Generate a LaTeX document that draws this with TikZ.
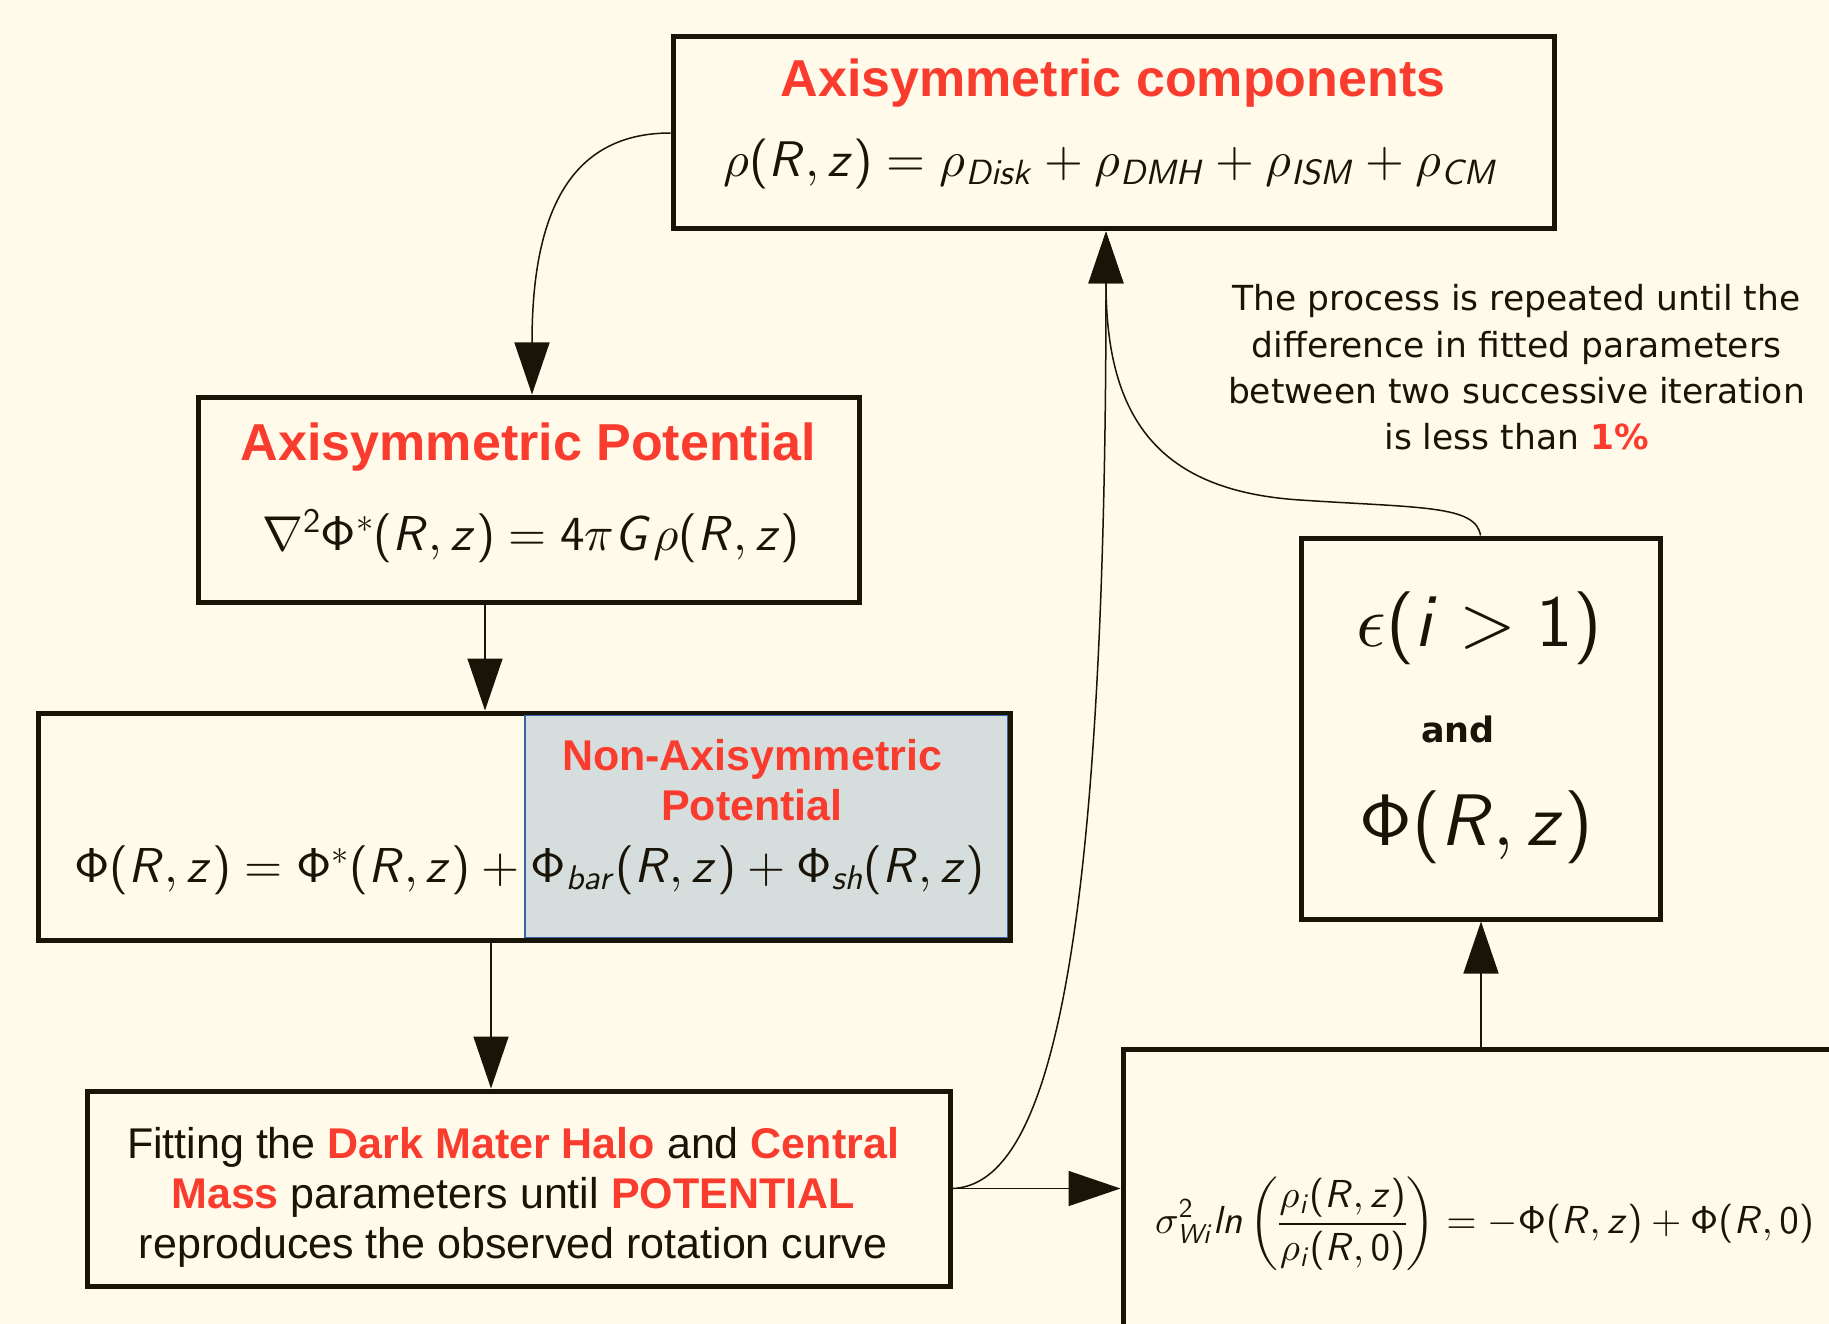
\RequirePackage{fix-cm}
\documentclass[tikz,border=0pt]{standalone}
\usepackage[no-math]{fontspec}
\usetikzlibrary{arrows.meta}
\newfontfamily\lib{Liberation Sans}
\newfontfamily\dvs{DejaVu Sans}
\DeclareFontFamily{OT1}{xcmss}{}
\DeclareFontShape{OT1}{xcmss}{m}{n}{<->cmss10}{}
\DeclareFontShape{OT1}{xcmss}{m}{sl}{<->cmssi10}{}
\DeclareFontFamily{OML}{xcmm}{\skewchar\font=127}
\DeclareFontShape{OML}{xcmm}{m}{it}{<->cmmi10}{}
\DeclareFontFamily{OMS}{xcmsy}{\skewchar\font=48}
\DeclareFontShape{OMS}{xcmsy}{m}{n}{<->cmsy10}{}
\DeclareFontFamily{OMX}{xcmex}{}
\DeclareFontShape{OMX}{xcmex}{m}{n}{<->cmex10}{}
\SetSymbolFont{operators}{normal}{OT1}{xcmss}{m}{n}
\SetSymbolFont{letters}{normal}{OML}{xcmm}{m}{it}
\SetSymbolFont{symbols}{normal}{OMS}{xcmsy}{m}{n}
\SetSymbolFont{largesymbols}{normal}{OMX}{xcmex}{m}{n}
\DeclareSymbolFont{sfit}{OT1}{xcmss}{m}{sl}
\makeatletter
\@tempcnta=97
\loop
  \mathcode\@tempcnta=\numexpr"7000+\symsfit*256+\@tempcnta\relax
  \advance\@tempcnta by 1
  \ifnum\@tempcnta<123 \repeat
\@tempcnta=65
\loop
  \mathcode\@tempcnta=\numexpr"7000+\symsfit*256+\@tempcnta\relax
  \advance\@tempcnta by 1
  \ifnum\@tempcnta<91 \repeat
\makeatother
\definecolor{bg}{RGB}{255,250,234}
\definecolor{ink}{RGB}{24,20,8}
\definecolor{rd}{RGB}{250,60,46}
\definecolor{gr}{RGB}{213,222,220}
\definecolor{bl}{RGB}{52,101,164}
\begin{document}
\begin{tikzpicture}[x=1pt,y=-1pt,
  box/.style={draw=ink, line width=5pt, inner sep=0pt},
  conn/.style={draw=ink, line width=1.5pt, -{Triangle[length=52pt,width=35pt]}},
  redtitle/.style={anchor=base, text=rd, font=\lib\bfseries\fontsize{52}{60}\selectfont},
  redsub/.style={anchor=base, text=rd, font=\lib\bfseries\fontsize{43}{50}\selectfont},
  fittxt/.style={anchor=base, text=ink, font=\lib\fontsize{43}{50}\selectfont},
  notetxt/.style={anchor=base, text=ink, font=\dvs\fontsize{34.5}{46}\selectfont},
  mth/.style={anchor=base, text=ink, font=\fontsize{49}{58}\selectfont},
  big/.style={anchor=base, text=ink, font=\fontsize{73}{88}\selectfont}]
\path[use as bounding box, fill=bg] (0,0) rectangle (1829,1324);
\clip (0,0) rectangle (1829,1324);

\coordinate (xa) at (485,0);
\coordinate (xb) at (491,0);
\coordinate (xc) at (1106,0);
\coordinate (xd) at (1481,0);
\coordinate (xe) at (532,0);

% Axisymmetric components
\node[box, minimum width=881pt, minimum height=192pt] (comp) at (1113.5,133) {};
\node[redtitle] (compT) at (1113,97) {Axisymmetric components};
\node[mth, font=\fontsize{50}{60}\selectfont] (compE) at (1110.5,177) {$\rho(R,z)=\rho_{Disk}+\rho_{DMH}+\rho_{ISM}+\rho_{CM}$};

% Axisymmetric potential
\node[box, minimum width=661pt, minimum height=205pt] (pot) at (528.5,499.5) {};
\node[redtitle] (potT) at (528.5,460) {Axisymmetric Potential};
\node[mth] (potE) at (531,550) {$\nabla^2\Phi^*(R,z)=4\pi G\rho(R,z)$};

% Full potential
\node[box, minimum width=972pt, minimum height=227pt] (phi) at (524,826.5) {};
\path[fill=gr, draw=bl, line width=1.2pt] (525,715.5) rectangle (1007.5,937.5);
\node[redsub] (nonT1) at (752,770) {Non-Axisymmetric};
\node[redsub] (nonT2) at (752,820) {Potential};
\node[mth] (phiE) at (529.6,882) {$\Phi(R,z)=\Phi^*(R,z)+\Phi_{bar}(R,z)+\Phi_{sh}(R,z)$};

% Fitting
\node[box, minimum width=863pt, minimum height=195pt] (fit) at (518.5,1188.5) {};
\node[fittxt] (fit1) at (513,1158) {Fitting the {\bfseries\color{rd}Dark Mater Halo} and {\bfseries\color{rd}Central}};
\node[fittxt] (fit2) at (513,1208) {{\bfseries\color{rd}Mass} parameters until {\bfseries\color{rd}POTENTIAL}};
\node[fittxt] (fit3) at (513,1258) {reproduces the observed rotation curve};

% sigma equation box
\node[box, anchor=north west, minimum width=900pt, minimum height=400pt] (sig) at (1120.5,1046.5) {};
\node[anchor=center, text=ink, font=\fontsize{39}{47}\selectfont] (sigE) at (1484.5,1224)
  {$\displaystyle \sigma^2_{Wi}ln\left(\frac{\rho_i(R,z)}{\rho_i(R,0)}\right)=-\Phi(R,z)+\Phi(R,0)$};

% epsilon box
\node[box, minimum width=359pt, minimum height=381pt] (eps) at (1480.5,728.5) {};
\node[big] (epsE) at (1479,646) {$\epsilon(i>1)$};
\node[anchor=base, text=ink, font=\dvs\bfseries\fontsize{35}{42}\selectfont] (epsA) at (1458,742) {and};
\node[big] (epsP) at (1476,845) {$\Phi(R,z)$};

% note
\node[notetxt] (n1) at (1516.5,311) {The process is repeated until the};
\node[notetxt] (n2) at (1516.5,357) {difference in fitted parameters};
\node[notetxt] (n3) at (1516.5,403) {between two successive iteration};
\node[notetxt] (n4) at (1516.5,449) {is less than {\bfseries\color{rd}1\%}};

% connectors
\draw[conn] (comp.west) .. controls (560,133) and (532,230) .. (pot.north -| xe);
\draw[conn] (pot.south -| xa) -- (phi.north -| xa);
\draw[conn] (phi.south -| xb) -- (fit.north -| xb);
\draw[conn] (fit.east) -- (sig.west |- fit.east);
\draw[conn] (fit.east) .. controls (1040,1185) and (1106,1000) .. (comp.south -| xc);
\draw[conn] (eps.north) .. controls (1476,505) and (1420,508) .. (1300,500) .. controls (1160,491) and (1106,420) .. (comp.south -| xc);
\draw[conn] (sig.north -| xd) -- (eps.south -| xd);
\end{tikzpicture}
\end{document}
